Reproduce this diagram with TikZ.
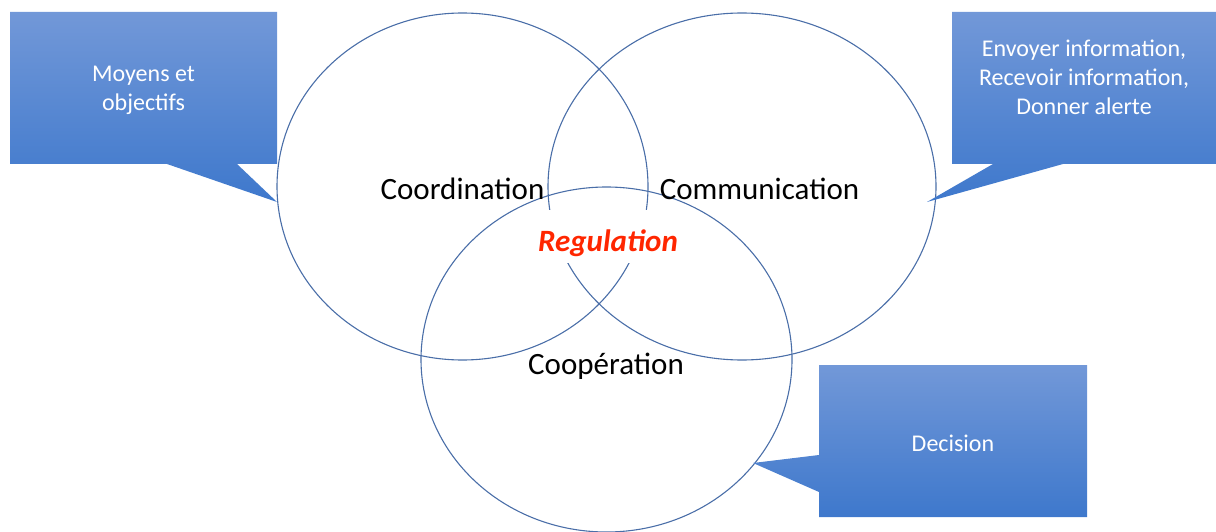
\documentclass[tikz,border=0pt]{standalone}
\usepackage{fontspec}
\setmainfont{Carlito}
\usetikzlibrary{shapes.geometric}
\definecolor{ringblue}{RGB}{74,110,168}
\definecolor{boxtop}{RGB}{114,152,216}
\definecolor{boxbot}{RGB}{62,120,204}
\definecolor{regred}{RGB}{255,38,0}
\begin{document}
\begin{tikzpicture}[x=1pt, y=-1pt,
    ring/.style={ellipse, draw=ringblue, line width=1.1pt, inner sep=0pt, outer sep=0pt},
    tag/.style={font=\fontsize{31}{37}\selectfont, inner sep=0pt, anchor=base},
    callout/.style={top color=boxtop, bottom color=boxbot, draw=none},
    boxtext/.style={font=\fontsize{24}{29}\selectfont, text=white, align=center}]

\useasboundingbox (0,0) rectangle (1216,532);

% the three rings
\node[ring, minimum width=371pt, minimum height=347pt] at (462.5,186.5) (coord) {};
\node[ring, minimum width=388pt, minimum height=347pt] at (742,186.5)   (comm)  {};
\node[ring, minimum width=371pt, minimum height=345pt] at (606.5,359.5) (coop)  {};

\node[tag] at (462.5,200) (coordl) {Coordination};
\node[tag] at (759.5,200) (comml)  {Communication};
\node[tag] at (606,374)   (coopl)  {Coopération};
\node[tag, fill=white, text=regred, font=\fontsize{31}{37}\selectfont\bfseries\itshape,
      text height=41pt, text depth=12pt, inner xsep=10pt] at (608,251) (reg) {Regulation};

% callouts
\coordinate (moytip) at (277,202);
\coordinate (envtip) at (927,202);
\coordinate (dectip) at (753,463);

\shade[callout] (10,12) -- (277,12) -- (277,164) -- (237,164) -- (moytip) -- (167,164) -- (10,164) -- cycle;
\shade[callout] (952,12) -- (1216,12) -- (1216,164) -- (1063,164) -- (envtip) -- (993,164) -- (952,164) -- cycle;
\shade[callout] (819,365) -- (1087,365) -- (1087,517) -- (819,517) -- (819,492) -- (dectip) -- (819,455) -- cycle;

\node[boxtext] at (143.5,90) (moy) {Moyens et\\objectifs};
\node[boxtext] at (1084,77)  (env) {Envoyer information,\\Recevoir information,\\Donner alerte};
\node[boxtext] at (953,443)  (dec) {Decision};

\end{tikzpicture}
\end{document}
